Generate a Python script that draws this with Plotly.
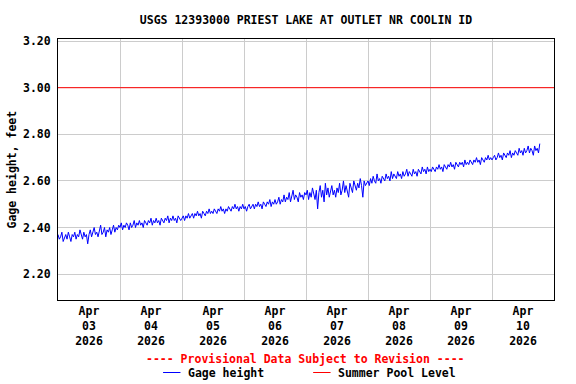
import pandas as pd
import plotly.graph_objects as go

title = "USGS 12393000 PRIEST LAKE AT OUTLET NR COOLIN ID"
y_label = "Gage height, feet"
start = "2026-04-03 00:00"
step = "30min"
summer_pool = 3.00
y_ticks = [2.20, 2.40, 2.60, 2.80, 3.00, 3.20]

apr03 = [2.37,2.35,2.36,2.38,2.34,2.36,2.37,2.35,2.38,2.36,2.34,2.37,2.36,2.38,2.35,2.37,2.36,2.39,2.37,2.35,2.38,2.36,2.37,2.33,
         2.37,2.39,2.36,2.38,2.40,2.37,2.38,2.36,2.39,2.41,2.37,2.38,2.40,2.36,2.39,2.38,2.40,2.37,2.39,2.41,2.38,2.40,2.39,2.41]
apr04 = [2.40,2.42,2.39,2.41,2.40,2.42,2.41,2.39,2.42,2.40,2.41,2.43,2.40,2.42,2.41,2.43,2.41,2.42,2.40,2.43,2.42,2.41,2.43,2.42,
         2.44,2.41,2.43,2.42,2.44,2.42,2.43,2.41,2.44,2.43,2.42,2.44,2.43,2.45,2.42,2.44,2.43,2.45,2.43,2.44,2.42,2.45,2.44,2.43]
apr05 = [2.44,2.45,2.43,2.45,2.44,2.46,2.44,2.45,2.46,2.44,2.46,2.45,2.47,2.45,2.46,2.44,2.47,2.46,2.45,2.47,2.46,2.48,2.46,2.47,
         2.46,2.48,2.47,2.46,2.48,2.47,2.49,2.47,2.48,2.46,2.48,2.47,2.49,2.48,2.47,2.49,2.48,2.50,2.48,2.49,2.47,2.49,2.48,2.50]
apr06 = [2.48,2.49,2.47,2.49,2.50,2.48,2.49,2.50,2.48,2.50,2.49,2.51,2.49,2.50,2.48,2.51,2.50,2.49,2.51,2.50,2.52,2.49,2.51,2.50,
         2.52,2.50,2.51,2.53,2.50,2.52,2.51,2.54,2.51,2.53,2.52,2.55,2.51,2.53,2.56,2.52,2.54,2.53,2.51,2.55,2.53,2.54,2.52,2.55]
apr07 = [2.54,2.56,2.52,2.55,2.53,2.57,2.54,2.52,2.56,2.48,2.55,2.58,2.53,2.56,2.51,2.59,2.54,2.57,2.53,2.55,2.58,2.54,2.56,2.53,
         2.57,2.55,2.59,2.54,2.56,2.60,2.55,2.58,2.56,2.53,2.59,2.57,2.55,2.60,2.58,2.56,2.59,2.57,2.61,2.58,2.53,2.60,2.58,2.59]
apr08 = [2.60,2.58,2.61,2.59,2.62,2.60,2.59,2.63,2.60,2.61,2.59,2.62,2.61,2.60,2.63,2.61,2.62,2.60,2.64,2.61,2.63,2.62,2.61,2.64,
         2.62,2.63,2.61,2.64,2.62,2.63,2.65,2.62,2.64,2.63,2.62,2.65,2.63,2.64,2.62,2.65,2.64,2.63,2.66,2.64,2.65,2.63,2.66,2.64]
apr09 = [2.65,2.64,2.66,2.65,2.64,2.66,2.65,2.67,2.65,2.66,2.64,2.67,2.66,2.65,2.67,2.66,2.68,2.66,2.67,2.65,2.68,2.67,2.66,2.68,
         2.67,2.68,2.66,2.69,2.67,2.68,2.67,2.69,2.68,2.67,2.69,2.68,2.70,2.68,2.69,2.67,2.70,2.69,2.68,2.70,2.69,2.71,2.69,2.70]
apr10 = [2.69,2.70,2.71,2.69,2.70,2.72,2.70,2.71,2.69,2.72,2.71,2.70,2.72,2.71,2.73,2.70,2.72,2.71,2.73,2.72,2.71,2.74,2.72,2.73,
         2.71,2.74,2.72,2.73,2.75,2.72,2.74,2.73,2.71,2.75,2.73,2.74,2.72,2.76]

gage = apr03 + apr04 + apr05 + apr06 + apr07 + apr08 + apr09 + apr10
times = pd.date_range(start=start, periods=len(gage), freq=step)

FONT = "DejaVu Sans Mono"
fs = 11.5

L, T, PW, PH = 58.3, 39.0, 495.7, 261.0
FIG_W, FIG_H = 576, 384

fig = go.Figure()
fig.add_trace(go.Scatter(x=times, y=gage, mode="lines",
                         line=dict(color="#0000FF", width=1), name="Gage height",
                         showlegend=False, hoverinfo="skip"))

fig.add_shape(type="line", xref="paper", x0=0, x1=1, yref="y",
              y0=summer_pool, y1=summer_pool, line=dict(color="#FF0000", width=1))

fig.update_layout(
    width=FIG_W, height=FIG_H,
    margin=dict(l=L, r=FIG_W - L - PW, t=T, b=FIG_H - T - PH, pad=0),
    paper_bgcolor="white", plot_bgcolor="white",
    font=dict(family=FONT, size=fs, color="black", weight="bold"),
    title=dict(text=title, x=306 / FIG_W, xanchor="center",
               y=1 - 20 / FIG_H, yanchor="middle",
               font=dict(family=FONT, size=fs, color="black", weight="bold")),
    showlegend=False,
)

fig.update_xaxes(
    range=["2026-04-03 00:00", "2026-04-11 00:00"],
    dtick=86400000, tick0="2026-04-03", ticklabelmode="period",
    tickformat="%b<br>%d<br>%Y",
    showgrid=True, gridcolor="#CCCCCC", gridwidth=1,
    showline=True, linecolor="black", linewidth=1, mirror=True,
    ticks="", zeroline=False,
    tickfont=dict(family=FONT, size=fs, color="black", weight="bold"),
)
fig.update_yaxes(
    range=[2.089, 3.209],
    tickvals=y_ticks, ticktext=[f"{v:.2f}" for v in y_ticks],
    showgrid=True, gridcolor="#CCCCCC", gridwidth=1,
    showline=True, linecolor="black", linewidth=1, mirror=True,
    ticks="", zeroline=False, ticklabelstandoff=4,
    tickfont=dict(family=FONT, size=fs, color="black", weight="bold"),
)

# y-axis title
fig.add_annotation(text=y_label, xref="paper", yref="paper", x=0, y=0.5,
                   xanchor="center", yanchor="middle",
                   xshift=-47, textangle=-90, showarrow=False,
                   font=dict(family=FONT, size=fs, color="black", weight="bold"))

# positions given in window pixels
def px(x):
    return (x - L) / PW
def py(y):
    return (T + PH - y) / PH

fig.add_annotation(text="---- Provisional Data Subject to Revision ----",
                   xref="paper", yref="paper", x=px(305.5), y=py(359),
                   showarrow=False, xanchor="center", yanchor="middle",
                   font=dict(family=FONT, size=fs, color="#FF0000", weight="bold"))

fig.add_shape(type="line", xref="paper", yref="paper", x0=px(163.3), x1=px(180.7),
              y0=py(372.5), y1=py(372.5), line=dict(color="#0000FF", width=1))
fig.add_annotation(text="Gage height", xref="paper", yref="paper", x=px(186), y=py(373),
                   showarrow=False, xanchor="left", yanchor="middle",
                   font=dict(family=FONT, size=fs, color="black", weight="bold"))
fig.add_shape(type="line", xref="paper", yref="paper", x0=px(313.3), x1=px(330.7),
              y0=py(372.5), y1=py(372.5), line=dict(color="#FF0000", width=1))
fig.add_annotation(text="Summer Pool Level", xref="paper", yref="paper", x=px(336), y=py(373),
                   showarrow=False, xanchor="left", yanchor="middle",
                   font=dict(family=FONT, size=fs, color="black", weight="bold"))

fig.write_html("out.html", config={"displayModeBar": False, "staticPlot": True},
               post_script="document.body.style.margin='0';")
